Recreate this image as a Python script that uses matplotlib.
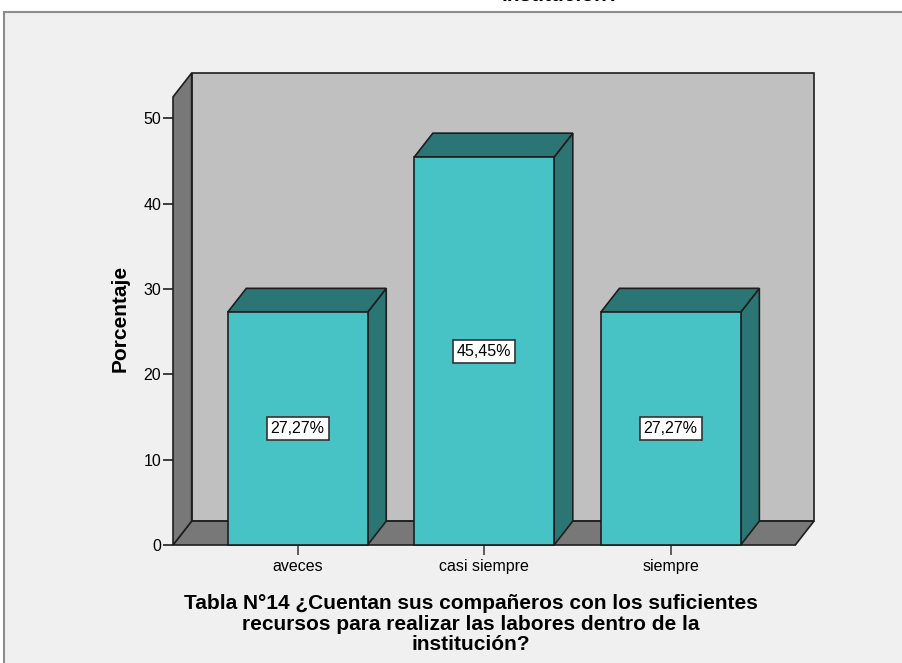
import matplotlib
matplotlib.use("Agg")
import matplotlib.pyplot as plt
from matplotlib.patches import Polygon, Rectangle

plt.rcParams['font.family'] = ['Liberation Sans', 'DejaVu Sans']

categorias = ['aveces', 'casi siempre', 'siempre']
porcentajes = [27.27, 45.45, 27.27]
etiquetas = ['27,27%', '45,45%', '27,27%']
yticks = [0, 10, 20, 30, 40, 50]
titulo = ('Tabla N°14 ¿Cuentan sus compañeros con los suficientes\n'
          'recursos para realizar las labores dentro de la\n'
          'institución?')

W, H = 902, 663
fig = plt.figure(figsize=(W / 100, H / 100), dpi=100)
fig.patch.set_facecolor('white')

# outer chart frame (grey panel)
fig.patches.append(Rectangle((4 / W, -0.02), 1.0, (H - 12) / H + 0.02,
                             transform=fig.transFigure, facecolor='#f0f0f0',
                             edgecolor='#8c8c8c', linewidth=1.5, zorder=-5))
# tail of the previous chart's title
fig.text(561 / W, 1 - 1 / H, 'institución?', ha='center', va='baseline',
         fontsize=15, fontweight='bold')

ax = fig.add_axes([173 / W, (H - 545) / H, (814 - 173) / W, (545 - 73) / H])
ax.set_zorder(2)
ax.patch.set_alpha(0)
for s in ax.spines.values():
    s.set_visible(False)

x0, x1 = -0.668, 2.668   # front floor extent
dx, dy = 0.1, 2.8        # depth offset
ymax = 52.5
ax.set_xlim(x0, x1 + dx)
ax.set_ylim(0, ymax + dy)

edge = '#1e1e1e'
lw = 1.2

def poly(pts, fc, z):
    ax.add_patch(Polygon(pts, closed=True, facecolor=fc, edgecolor=edge,
                         linewidth=lw, joinstyle='miter', zorder=z, clip_on=False))

# back wall, floor and left wall
poly([(x0 + dx, dy), (x1 + dx, dy), (x1 + dx, ymax + dy), (x0 + dx, ymax + dy)], '#c0c0c0', 1)
poly([(x0, 0), (x1, 0), (x1 + dx, dy), (x0 + dx, dy)], '#787878', 2)
poly([(x0, 0), (x0 + dx, dy), (x0 + dx, ymax + dy), (x0, ymax)], '#787878', 2)

ancho = 0.75
frente = '#47c2c5'
lado = '#2b7675'
for i, (v, txt) in enumerate(zip(porcentajes, etiquetas)):
    l, r = i - ancho / 2, i + ancho / 2
    poly([(r, 0), (r + dx, dy), (r + dx, v + dy), (r, v)], lado, 3)
    poly([(l, v), (l + dx, v + dy), (r + dx, v + dy), (r, v)], lado, 3)
    poly([(l, 0), (r, 0), (r, v), (l, v)], frente, 4)
    ax.text(i, v / 2, txt, ha='center', va='center', fontsize=11.5, zorder=6,
            bbox=dict(boxstyle='square,pad=0.25', facecolor='white',
                      edgecolor='#333333', linewidth=1.2))

ax.set_xticks(range(len(categorias)))
ax.set_xticklabels(categorias)
ax.set_yticks(yticks)
ax.set_yticklabels([str(t) for t in yticks])
ax.tick_params(axis='y', length=7, width=1.2, pad=1.5, labelsize=11.5, color=edge)
ax.tick_params(axis='x', length=7, width=1.2, pad=3, labelsize=11.5, color='#444444')

fig.text(120 / W, 1 - 318 / H, 'Porcentaje', rotation=90, ha='center', va='center',
         fontsize=15, fontweight='bold')
fig.text(471 / W, 1 - 624 / H, titulo, ha='center', va='center', fontsize=15,
         fontweight='bold', linespacing=1.08)

fig.savefig('out.png', dpi=100)
